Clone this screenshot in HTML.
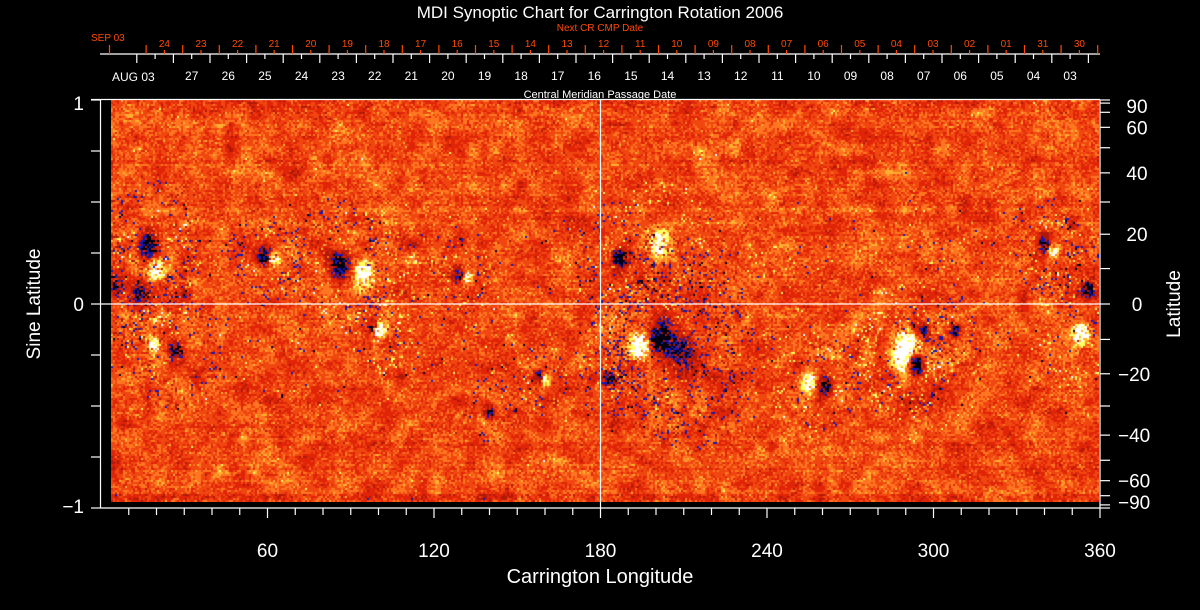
<!DOCTYPE html>
<html><head><meta charset="utf-8">
<style>
html,body{margin:0;padding:0;background:#000;}
#wrap{position:relative;width:1200px;height:610px;background:#000;overflow:hidden;font-family:"Liberation Sans",sans-serif;}
#map{position:absolute;left:111px;top:100px;width:988px;height:402px;}
svg{position:absolute;left:0;top:0;}
</style></head>
<body>
<div id="wrap">
<canvas id="map" width="988" height="402"></canvas>
<svg id="ax" width="1200" height="610"></svg>
</div>
<script>
// Active region data (Carrington longitude, sine latitude, signed flux, size deg)
const regionLon   = [17,20,14,59,62,86,95,129,132,100,98,19,27,140,160,158,183,187,201,194,201,261,255,290,294,297,288,308,340,343,353,356,5,204,210];
const regionSin   = [0.29,0.17,0.05,0.23,0.22,0.19,0.14,0.14,0.13,-0.13,-0.12,-0.2,-0.23,-0.53,-0.37,-0.36,-0.37,0.22,0.29,-0.2,-0.18,-0.4,-0.39,-0.2,-0.3,-0.13,-0.28,-0.13,0.29,0.26,-0.15,0.07,0.1,-0.15,-0.25];
const regionFlux  = [-2.4,2.4,-2.0,-2.6,2.2,-2.6,2.6,-2.2,2.0,2.4,-2.4,2.2,-2.2,-2.4,2.0,-2.2,-2.2,-2.4,2.2,2.8,-2.8,-2.8,2.4,2.8,-2.8,-2.4,2.2,-2.2,-2.4,2.2,2.6,-2.4,-1.8,-1.4,-1.6];
const regionSize  = [3.5,3,3,2.5,2,3.5,3.5,2,1.8,2.2,1.8,2,3,1.8,1.8,1.8,2,3,3.5,3.5,3.5,2.5,2.5,3.5,2.5,1.8,3,1.8,2.5,2,3,2.5,3,5,5];
// Axis tick labels
const lonTicks = [60,120,180,240,300,360];
const sinTicks = [1,0,-1];
const latTicks = [90,60,40,20,0,-20,-40,-60,-90];
const redDates = ["24","23","22","21","20","19","18","17","16","15","14","13","12","11","10","09","08","07","06","05","04","03","02","01","31","30"];
const whiteDates = ["27","26","25","24","23","22","21","20","19","18","17","16","15","14","13","12","11","10","09","08","07","06","05","04","03"];

const X0=101, X1=1100, Y0=100, Y1=508, YM=304;
const xLon = l => X0 + (X1-X0)*l/360;
const ySin = s => YM - (YM-Y0)*s;
const yLat = d => ySin(Math.sin(d*Math.PI/180));

// ---- map texture ----
(function(){
  const cv=document.getElementById('map'), ctx=cv.getContext('2d');
  let seed=12345; const rnd=()=>{seed=(seed*1103515245+12345)&0x7fffffff;return seed/0x7fffffff;};
  const gauss=()=>{let u=rnd()||1e-6,v=rnd();return Math.sqrt(-2*Math.log(u))*Math.cos(2*Math.PI*v);};
  const C=2, cols=Math.ceil(988/C), rows=Math.ceil(402/C);
  // coarse value noise for patchy network
  const G=6, gc=Math.ceil(cols/G)+2, gr=Math.ceil(rows/G)+2, grid=[];
  for(let i=0;i<gc*gr;i++)grid.push(gauss());
  const vn=(c,r)=>{const gx=c/G, gy=r/G, ix=Math.floor(gx), iy=Math.floor(gy), fx=gx-ix, fy=gy-iy;
    const a=grid[iy*gc+ix],b=grid[iy*gc+ix+1],cc=grid[(iy+1)*gc+ix],d=grid[(iy+1)*gc+ix+1];
    return (a*(1-fx)+b*fx)*(1-fy)+(cc*(1-fx)+d*fx)*fy;};
  const pal=[[-1.3,[0,0,16]],[-0.85,[24,24,176]],[-0.35,[176,24,8]],[0.05,[224,36,8]],[0.35,[240,70,16]],[0.65,[255,118,32]],[0.95,[255,176,48]],[1.35,[255,255,96]],[99,[255,255,255]]];
  const col=f=>{for(const p of pal){if(f<p[0])return p[1];}return [255,255,255];};
  const rowOff=[];for(let r=0;r<rows;r++)rowOff.push(gauss()*0.05);
  for(let r=0;r<rows;r++){
    const py=100+r*C+1, s=(YM-py)/(YM-Y0);
    const band=Math.exp(-Math.pow((Math.abs(s)-0.25)/0.2,2));
    for(let c=0;c<cols;c++){
      const px=111+c*C+1, lon=(px-X0)/(X1-X0)*360;
      let f=0.2+0.2*gauss()+0.2*vn(c,r)+rowOff[r];
      if(Math.abs(s)>0.93) f+=0.12*gauss()-0.1;
      for(let i=0;i<regionLon.length;i++){
        const dx=(lon-regionLon[i]), dy=(s-regionSin[i])*57;
        const d2=(dx*dx+dy*dy)/(regionSize[i]*regionSize[i]);
        if(d2<9) f+=regionFlux[i]*Math.exp(-d2)*(0.3+1.0*rnd());
        else if(d2<30 && regionFlux[i]<0 && rnd()<0.06) f-=1.1;
        else if(d2<30 && regionFlux[i]>0 && rnd()<0.05) f+=0.8;
      }
      if(rnd()<0.012*band) f-=1.1+rnd()*0.5;
      if(rnd()<0.01*band) f+=0.7;
      const k=col(f); ctx.fillStyle='rgb('+k[0]+','+k[1]+','+k[2]+')';
      ctx.fillRect(c*C,r*C,C,C);
    }
  }
})();

// ---- axes ----
(function(){
  const svg=document.getElementById('ax'), NS='http://www.w3.org/2000/svg';
  function line(x1,y1,x2,y2,stroke,name){const e=document.createElementNS(NS,'line');
    e.setAttribute('x1',x1);e.setAttribute('y1',y1);e.setAttribute('x2',x2);e.setAttribute('y2',y2);
    e.setAttribute('stroke',stroke);e.setAttribute('stroke-width',1.2);
    
    
    svg.appendChild(e);return e;}
  function text(x,y,str,size,fill,anchor,name,rot){const e=document.createElementNS(NS,'text');
    e.setAttribute('x',x);e.setAttribute('y',y);e.setAttribute('font-size',size);e.setAttribute('fill',fill);
    e.setAttribute('text-anchor',anchor||'middle');e.setAttribute('font-family','"Liberation Sans", sans-serif');
    if(rot)e.setAttribute('transform','rotate('+rot+' '+x+' '+y+')');
    e.textContent=str;
    
    
    svg.appendChild(e);return e;}
  const W='#fff', R='#ff4a00';
  line(X0,Y0-0.5,X1,Y0-0.5,W,'plot-top-border');
  line(X0,Y1,X1,Y1,W,'x-axis-line');
  line(X0-0.5,Y0,X0-0.5,Y1,W,'left-axis-line');
  line(X1,Y0,X1,Y1,W,'right-axis-line');
  line(xLon(180),Y0,xLon(180),Y1,W,'meridian-180-line');
  line(X0,YM,X1,YM,W,'equator-line');
  line(X0-10,Y0-0.5,X0,Y0-0.5,W,'left-tick-top');
  for(let l=10;l<=360;l+=10){const maj=lonTicks.includes(l);line(xLon(l),Y1,xLon(l),Y1+(maj?10:7),W,'x-tick');}
  lonTicks.forEach(l=>text(xLon(l),557,String(l),19,W,'middle','x-tick-label'));
  text(600,583,'Carrington Longitude',20,W,'middle','x-axis-title');
  for(let s=-1;s<=1.001;s+=0.25){line(X0-10,ySin(s),X0,ySin(s),W,'left-tick');}
  sinTicks.forEach(s=>text(84,ySin(s)+7-(s==1?-3:s==-1?2:0),s<0?'\u22121':String(s),19,W,'end','y-tick-label'));
  text(40,304,'Sine Latitude',19,W,'middle','y-axis-title',-90);
  for(let d=-90;d<=90;d+=10){line(X1,yLat(d),X1+10,yLat(d),W,'right-tick');}
  latTicks.forEach(d=>{let y=yLat(d)+7; if(d==90)y+=6; if(d==-90)y-=6;
    text(d<0?1118:1137,y,d<0?'\u2212'+(-d):String(d),19,W,d<0?'start':'middle','latitude-tick-label');});
  text(1180,304,'Latitude',19,W,'middle','latitude-axis-title',-90);
  text(600,18,'MDI Synoptic Chart for Carrington Rotation 2006',17,W,'middle','chart-title');
  const DY=36.6;
  line(100,54,1100,54,W,'date-axis-line');
  for(let j=0;j<=27;j++){const x=109.5+DY*j; if(x<=1100) line(x,45,x,54,R,'next-cmp-major-tick');}
  redDates.forEach((t,k)=>{const x=164.4+DY*k;line(x,50,x,54,R,'next-cmp-minor-tick');text(x,47,t,10,R,'middle','next-cmp-date-label');});
  text(91,41,'SEP 03',10,R,'start','next-cmp-start-label');
  text(600,31,'Next CR CMP Date',10,R,'middle','next-cmp-axis-title');
  for(let j=0;j<=26;j++){const x=136.8+DY*j; if(x<=1100) line(x,54,x,63,W,'cmp-major-tick');}
  for(let j=0;j<=26;j++){const x=155.1+DY*j; if(x<=1100) line(x,54,x,59,W,'cmp-minor-tick');}
  whiteDates.forEach((t,k)=>text(191.7+DY*k,80,t,12,W,'middle','cmp-date-label'));
  text(112,81,'AUG 03',12,W,'start','cmp-start-label');
  text(600,98,'Central Meridian Passage Date',11,W,'middle','cmp-axis-title');
})();
</script>
</body></html>
